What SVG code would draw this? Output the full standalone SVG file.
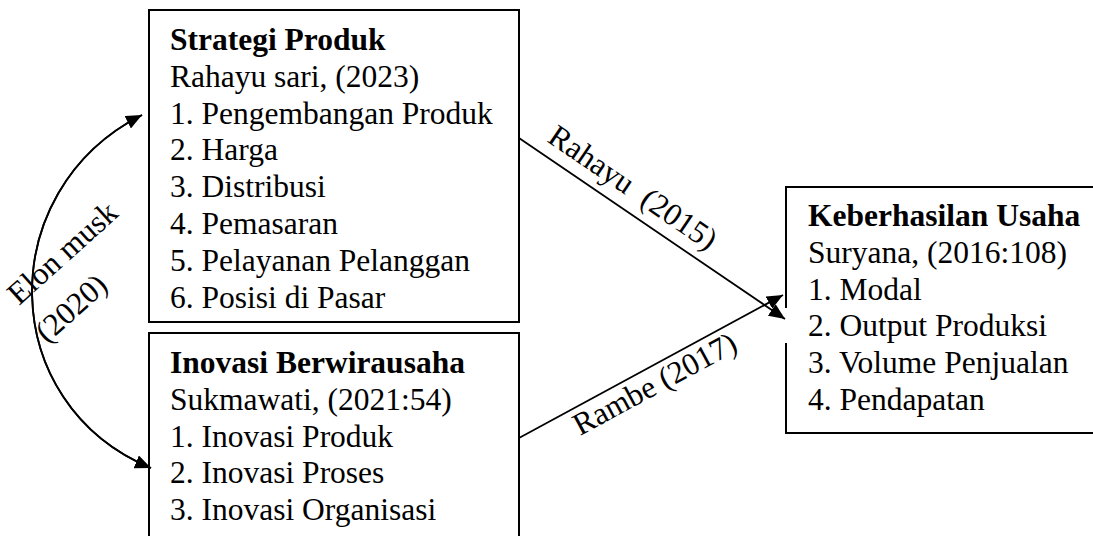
<svg xmlns="http://www.w3.org/2000/svg" width="1093" height="536" viewBox="0 0 1093 536">
<style>
.box{fill:#fff;stroke:#000;stroke-width:2}
.t{font-family:"Liberation Serif","Times New Roman",serif;font-size:31.5px;fill:#000}
.b{font-weight:bold}
.c{fill:none;stroke:#000;stroke-width:1.8}
</style>
<defs>
<marker id="ah" markerUnits="userSpaceOnUse" markerWidth="18" markerHeight="14" refX="16" refY="7" orient="auto">
<path d="M0,0 L16,7 L0,14 Z" fill="#000"/>
</marker>
</defs>
<rect width="1093" height="536" fill="#fff"/>
<g id="node-strategi">
<rect class="box" x="149" y="10" width="370" height="312"/>
<text class="t b" x="170" y="50">Strategi Produk</text>
<text class="t" x="170" y="86.8">Rahayu sari, (2023)</text>
<text class="t" x="170" y="123.6">1. Pengembangan Produk</text>
<text class="t" x="170" y="160.4">2. Harga</text>
<text class="t" x="170" y="197.2">3. Distribusi</text>
<text class="t" x="170" y="234">4. Pemasaran</text>
<text class="t" x="170" y="270.8">5. Pelayanan Pelanggan</text>
<text class="t" x="170" y="307.6">6. Posisi di Pasar</text>
</g>
<g id="node-inovasi">
<rect class="box" x="149" y="333" width="370" height="220"/>
<text class="t b" x="170" y="373">Inovasi Berwirausaha</text>
<text class="t" x="170" y="409.8">Sukmawati, (2021:54)</text>
<text class="t" x="170" y="446.6">1. Inovasi Produk</text>
<text class="t" x="170" y="483.4">2. Inovasi Proses</text>
<text class="t" x="170" y="520.2">3. Inovasi Organisasi</text>
</g>
<g id="node-keberhasilan">
<rect x="786" y="187" width="320" height="246" fill="#fff"/>
<path d="M786,308 V187 H1100 M786,343 V433 H1100" fill="none" stroke="#000" stroke-width="2"/>
<text class="t b" x="808" y="226">Keberhasilan Usaha</text>
<text class="t" x="808" y="262.8">Suryana, (2016:108)</text>
<text class="t" x="808" y="299.6">1. Modal</text>
<text class="t" x="808" y="336.4">2. Output Produksi</text>
<text class="t" x="808" y="373.2">3. Volume Penjualan</text>
<text class="t" x="808" y="410">4. Pendapatan</text>
</g>
<g id="connectors">
<path class="c" d="M519,138 L785,319" marker-end="url(#ah)"/>
<path class="c" d="M519,438 L783,295" marker-end="url(#ah)"/>
<path class="c" d="M151,468 C-4,404 -8,191 142,115" marker-end="url(#ah)"/>
<path class="c" d="M142,115 C-8,191 -4,404 151,468" marker-end="url(#ah)"/>
<text class="t" transform="translate(546,141) rotate(34.2)" xml:space="preserve">Rahayu  (2015)</text>
<text class="t" transform="translate(580,436) rotate(-28.4)">Rambe (2017)</text>
<text class="t" transform="translate(19,306) rotate(-42)">Elon musk</text>
<text class="t" transform="translate(47,344) rotate(-42)">(2020)</text>
</g>
</svg>
